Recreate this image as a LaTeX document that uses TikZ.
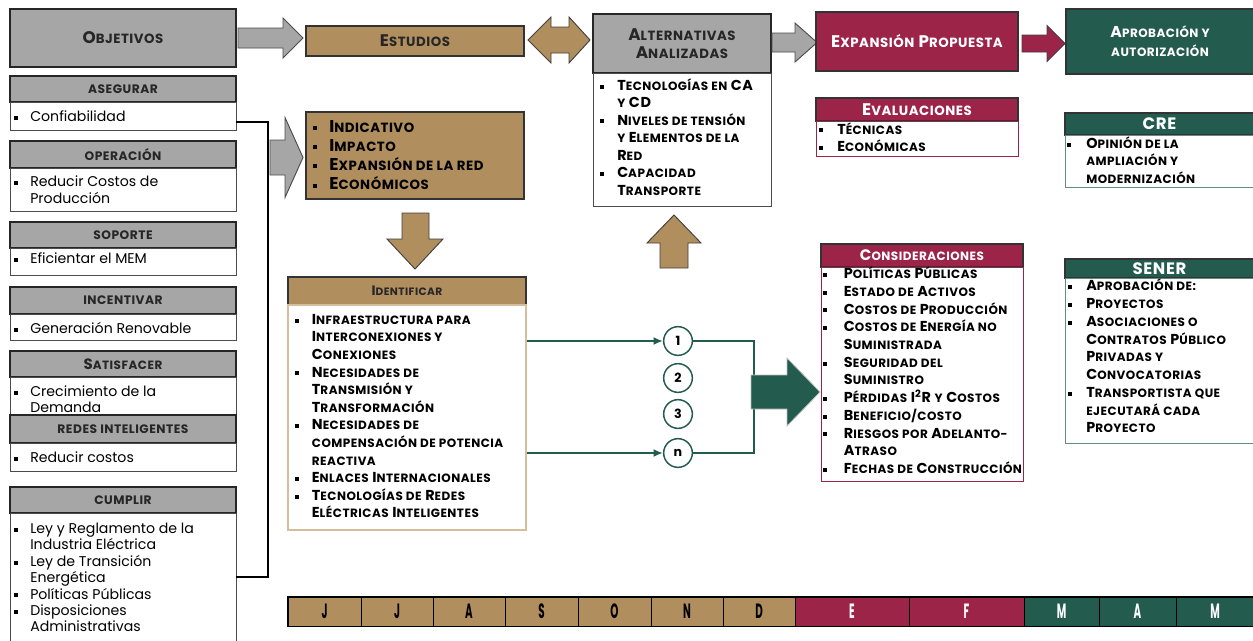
\documentclass[tikz,border=0pt]{standalone}
\usepackage{fontspec}
\usepackage{relsize}
\setmainfont{Poppins}
\newfontfamily\anch[LetterSpace=4]{Poppins}
\newfontfamily\angosta[FakeStretch=0.5]{Poppins}
\usetikzlibrary{fit,arrows.meta}
\definecolor{gris}{RGB}{166,166,166}
\definecolor{oro}{RGB}{176,142,94}
\definecolor{orolinea}{RGB}{214,190,155}
\definecolor{guinda}{RGB}{157,36,73}
\definecolor{verde}{RGB}{35,91,78}
\newlength\bw
\setlength\bw{12pt}
% versalitas simuladas
\newcommand\sm[1]{{\relscale{0.8}\MakeUppercase{#1}}}
\newcommand\bl{\makebox[\bw][l]{\raisebox{0.12em}{\rule{3pt}{3pt}}}}
\newcommand\ind{\hspace*{\bw}}
\newcommand\titulo{\anch\fontsize{12.6}{15}\selectfont\bfseries}
\newcommand\letrareg[1]{\fontsize{10.6}{#1}\selectfont}
\newcommand\letraneg[1]{\anch\fontsize{10.8}{#1}\selectfont\bfseries}
% flecha gruesa hacia la derecha: estilo, x0, xh, x1, yc, medio cuerpo, media punta
\newcommand\flechader[7]{%
  \draw[#1] (#2,#5-#6) -- (#3,#5-#6) -- (#3,#5-#7) -- (#4,#5) -- (#3,#5+#7) -- (#3,#5+#6) -- (#2,#5+#6) -- cycle;}

\begin{document}
\begin{tikzpicture}[x=0.75pt,y=-0.75pt,
    caja/.style={inner sep=0pt, line width=0.9pt},
    hgris/.style={caja, draw=black!85, fill=gris},
    cblanca/.style={caja, draw=black!70, fill=white, line width=0.7pt},
    horo/.style={caja, draw=black!80, fill=oro},
    hguinda/.style={caja, draw=black!80, fill=guinda},
    hverde/.style={caja, draw=black!80, fill=verde},
    rot/.style={inner sep=0pt, text=black!85, font={\anch\fontsize{9.2}{11}\selectfont\bfseries}},
    rotb/.style={inner sep=0pt, text=white, font=\titulo},
    texto/.style={anchor=north west, inner sep=0pt, align=left},
    fgris/.style={fill=gris, draw=black!70, line width=0.7pt},
    foro/.style={fill=oro, draw=black!75, line width=0.7pt},
    conector/.style={draw=verde, line width=1.9pt},
    circulo/.style={circle, draw=verde, line width=1.1pt, fill=white, minimum size=21.5pt, inner sep=0pt, font={\fontsize{9.5}{10}\selectfont\bfseries}},
    mes/.style={caja, draw=black, line width=0.6pt}]
  \useasboundingbox (0,0) rectangle (1253,640);

  % columna de objetivos
  \node[hgris, line width=1.4pt, fit={(10,9) (236,67)}] (obj) {};
  \node[rot, font=\titulo] (objt) at (obj) {O\sm{bjetivos}};

  \node[hgris, fit={(10,76) (236,102)}] (h1) {};
  \node[rot] (h1t) at (h1) {ASEGURAR};
  \node[cblanca, fit={(10,102) (236,130)}] (b1) {};
  \node[texto, font=\letrareg{12.75pt}] (t1) at (14,109.8) {\strut\bl Confiabilidad};

  \node[hgris, fit={(10,141) (236,168)}] (h2) {};
  \node[rot] (h2t) at (h2) {OPERACIÓN};
  \node[cblanca, fit={(10,168) (236,211)}] (b2) {};
  \node[texto, font=\letrareg{12.9pt}] (t2) at (14,174) {\strut\bl Reducir Costos de\\\ind Producción};

  \node[hgris, fit={(10,222) (236,248)}] (h3) {};
  \node[rot] (h3t) at (h3) {SOPORTE};
  \node[cblanca, fit={(10,248) (236,275)}] (b3) {};
  \node[texto, font=\letrareg{12.75pt}] (t3) at (14,251.4) {\strut\bl Eficientar el MEM};

  \node[hgris, fit={(10,287) (236,314)}] (h4) {};
  \node[rot] (h4t) at (h4) {INCENTIVAR};
  \node[cblanca, fit={(10,314) (236,340)}] (b4) {};
  \node[texto, font=\letrareg{12.75pt}] (t4) at (14,321.4) {\strut\bl Generación Renovable};

  \node[hgris, fit={(10,351) (236,377)}] (h5) {};
  \node[rot, font={\anch\fontsize{11.2}{12}\selectfont\bfseries}] (h5t) at (h5) {S\sm{atisfacer}};
  \node[cblanca, fit={(10,377) (236,415)}] (b5) {};
  \node[texto, font=\letrareg{12.3pt}] (t5) at (14,384.5) {\strut\bl Crecimiento de la\\\ind Demanda};

  \node[hgris, fit={(10,415) (236,443)}] (h6) {};
  \node[rot] (h6t) at (h6) {REDES INTELIGENTES};
  \node[cblanca, fit={(10,443) (236,471)}] (b6) {};
  \node[texto, font=\letrareg{12.75pt}] (t6) at (14,450.8) {\strut\bl Reducir costos};

  \node[hgris, fit={(10,487) (236,513)}] (h7) {};
  \node[rot] (h7t) at (h7) {CUMPLIR};
  \node[cblanca, fit={(10,513) (236,642)}] (b7) {};
  \node[texto, font=\letrareg{12.3pt}] (t7) at (14,521.8)
    {\strut\bl Ley y Reglamento de la\\\ind Industria Eléctrica\\\bl Ley de Transición\\\ind Energética\\\bl Políticas Públicas\\\bl Disposiciones\\\ind Administrativas};

  % llave que une los objetivos
  \coordinate (ca) at (268,122);
  \coordinate (cb) at (268,577);
  \draw[line width=1pt] (b1.east |- ca) -- (ca) -- (cb) -- (b7.east |- cb);

  % flechas grises
  \flechader{fgris}{238}{283}{303}{38}{10}{20}
  \flechader{fgris}{270}{285}{303}{157.5}{17.5}{40}

  % estudios
  \node[horo, fit={(306,26) (524,56)}] (est) {};
  \node[rot, font=\titulo] (estt) at (est) {E\sm{studios}};
  \node[horo, fit={(306,112) (524,199)}] (tipos) {};
  \node[texto, font={\anch\fontsize{12.8}{14.4pt}\selectfont\bfseries}] (tt) at (313,118.3)
    {\strut\bl I\sm{ndicativo}\\\bl I\sm{mpacto}\\\bl E\sm{xpansión de la red}\\\bl E\sm{conómicos}};

  % flecha doble
  \draw[foro] (528,40) -- (551,17) -- (551,27) -- (569,27) -- (569,17) -- (590,40)
    -- (569,63) -- (569,53) -- (551,53) -- (551,63) -- cycle;
  % flecha hacia abajo
  \draw[foro] (402,213) -- (429,213) -- (429,239) -- (443,239) -- (415,269) -- (387,239) -- (402,239) -- cycle;
  % flecha hacia arriba
  \draw[foro] (647,243) -- (674,215) -- (701,243) -- (688,243) -- (688,268) -- (660,268) -- (660,243) -- cycle;

  % identificar
  \node[horo, fit={(288,277) (526,305)}] (idh) {};
  \node[rot, font={\anch\fontsize{10.2}{11}\selectfont\bfseries}] (idht) at (idh) {I\sm{dentificar}};
  \node[caja, draw=orolinea, line width=0.8pt, fill=white, fit={(288,305) (526,530)}] (idb) {};
  \node[texto, font={\letraneg{13.2pt}\setlength\bw{12.5pt}}] (idt) at (295,311.7)
    {\strut\bl I\sm{nfraestructura para}\\
     \ind I\sm{nterconexiones y}\\
     \ind C\sm{onexiones}\\
     \bl N\sm{ecesidades de}\\
     \ind T\sm{ransmisión y}\\
     \ind T\sm{ransformación}\\
     \bl N\sm{ecesidades de}\\
     \ind \sm{compensación de potencia}\\
     \ind \sm{reactiva}\\
     \bl E\sm{nlaces} I\sm{nternacionales}\\
     \bl T\sm{ecnologías de} R\sm{edes}\\
     \ind E\sm{léctricas} I\sm{nteligentes}};

  % alternativas
  \node[hgris, line width=1.2pt, fit={(593,14) (771,73)}] (alth) {};
  \node[rot, align=center, font={\anch\fontsize{12.6}{13.5pt}\selectfont\bfseries}] (altht) at (alth) {A\sm{lternativas}\\A\sm{nalizadas}};
  \node[cblanca, fit={(593,73) (771,206)}] (altb) {};
  \node[texto, font={\letraneg{13.1pt}\setlength\bw{12.75pt}}] (altt) at (600,77.75)
    {\strut\bl T\sm{ecnologías en} CA\\
     \ind \sm{y} CD\\
     \bl N\sm{iveles de tensión}\\
     \ind \sm{y} E\sm{lementos de la}\\
     \ind R\sm{ed}\\
     \bl C\sm{apacidad}\\
     \ind T\sm{ransporte}};

  \flechader{fgris}{772}{795}{817}{42.5}{9.5}{19.5}

  % expansion propuesta
  \node[hguinda, line width=1.2pt, fit={(816,12) (1018,71)}] (exp) {};
  \node[rotb] (expt) at (exp) {E\sm{xpansión} P\sm{ropuesta}};
  \flechader{fill=guinda, draw=black!75, line width=0.7pt}{1022}{1047}{1065}{43.5}{8.5}{18}

  \node[hguinda, fit={(816,98) (1018,121)}] (evh) {};
  \node[rotb] (evht) at (evh) {E\sm{valuaciones}};
  \node[caja, draw=guinda, line width=0.7pt, fill=white, fit={(816,121) (1018,156)}] (evb) {};
  \node[texto, font={\letraneg{13pt}\setlength\bw{13.5pt}}] (evt) at (819,121.6)
    {\strut\bl T\sm{écnicas}\\\bl E\sm{conómicas}};

  % aprobacion
  \node[hverde, line width=1.2pt, fit={(1066,9) (1254,74)}] (apr) {};
  \node[rotb, align=center, font={\anch\fontsize{11.8}{14pt}\selectfont\bfseries}] (aprt) at (apr) {A\sm{probación y}\\\sm{autorización}};

  \node[hverde, fit={(1065,113) (1254,135)}] (creh) {};
  \node[rotb, font={\anch\fontsize{12.4}{13}\selectfont\bfseries}] (creht) at (creh) {CRE};
  \node[caja, draw=verde!70, line width=0.7pt, fill=white, fit={(1065,135) (1254,187)}] (creb) {};
  \node[texto, font={\letraneg{13.1pt}\setlength\bw{14.25pt}}] (cret) at (1067,135.75)
    {\strut\bl O\sm{pinión de la}\\\ind \sm{ampliación y}\\\ind \sm{modernización}};

  \node[hverde, fit={(1065,259) (1254,278)}] (senh) {};
  \node[rotb, font={\anch\fontsize{12.4}{13}\selectfont\bfseries}] (senht) at (senh) {SENER};
  \node[caja, draw=verde!70, line width=0.7pt, fill=white, fit={(1065,278) (1254,443)}] (senb) {};
  \node[texto, font={\letraneg{13.3pt}\setlength\bw{13.5pt}}] (sent) at (1068,278.3)
    {\strut\bl A\sm{probación de:}\\
     \bl P\sm{royectos}\\
     \bl A\sm{sociaciones o}\\
     \ind C\sm{ontratos} P\sm{úblico}\\
     \ind P\sm{rivadas y}\\
     \ind C\sm{onvocatorias}\\
     \bl T\sm{ransportista que}\\
     \ind \sm{ejecutará cada}\\
     \ind P\sm{royecto}};

  % consideraciones
  \node[hguinda, fit={(821,244) (1023,267)}] (conh) {};
  \node[rotb, font={\anch\fontsize{11.4}{12}\selectfont\bfseries}] (conht) at (conh) {C\sm{onsideraciones}};
  \node[caja, draw=guinda, line width=0.7pt, fill=white, fit={(821,267) (1023,481)}] (conb) {};
  \node[texto, font={\letraneg{13.3pt}\setlength\bw{15.5pt}}] (cont) at (823,265.9)
    {\strut\bl P\sm{olíticas} P\sm{úblicas}\\
     \bl E\sm{stado de} A\sm{ctivos}\\
     \bl C\sm{ostos de} P\sm{roducción}\\
     \bl C\sm{ostos de} E\sm{nergía no}\\
     \ind S\sm{uministrada}\\
     \bl S\sm{eguridad del}\\
     \ind S\sm{uministro}\\
     \bl P\sm{érdidas} I\textsuperscript{2}R \sm{y} C\sm{ostos}\\
     \bl B\sm{eneficio/costo}\\
     \bl R\sm{iesgos por} A\sm{delanto-}\\
     \ind A\sm{traso}\\
     \bl F\sm{echas de} C\sm{onstrucción}};

  % alternativas numeradas
  \node[circulo] (c1) at (678,341) {1};
  \node[circulo] (c2) at (678,378) {2};
  \node[circulo] (c3) at (678,414) {3};
  \node[circulo] (cn) at (678,453) {n};
  \coordinate (junta) at (754,397);
  \draw[conector, -{Latex[length=7pt,width=6pt]}] (idb.east |- c1) -- (c1);
  \draw[conector, -{Latex[length=7pt,width=6pt]}] (idb.east |- cn) -- (cn);
  \draw[conector] (c1.east) -| (junta) |- (cn.east);
  \flechader{fill=verde, draw=black!25, line width=0.6pt}{751}{787}{820}{392}{17}{34}

  % meses
  \foreach \xa/\xb/\m/\c/\t [count=\i] in {288/361/J/oro/black,361/433/J/oro/black,433/505/A/oro/black,
      505/578/S/oro/black,578/651/O/oro/black,651/723/N/oro/black,723/795/D/oro/black,
      795/909/E/guinda/white,909/1024/F/guinda/white,1024/1099/M/verde/white,
      1099/1176/A/verde/white,1176/1254/M/verde/white}{
    \node[mes, fill=\c, fit={(\xa,597) (\xb,626)}] (m\i) {};
    \node[inner sep=0pt, text=\t, font={\angosta\fontsize{15.5}{16}\selectfont\bfseries}] (m\i t) at (m\i) {\m};
  }
  \draw[line width=1.2pt] (m1.north west) rectangle (m12.south east);
\end{tikzpicture}
\end{document}
